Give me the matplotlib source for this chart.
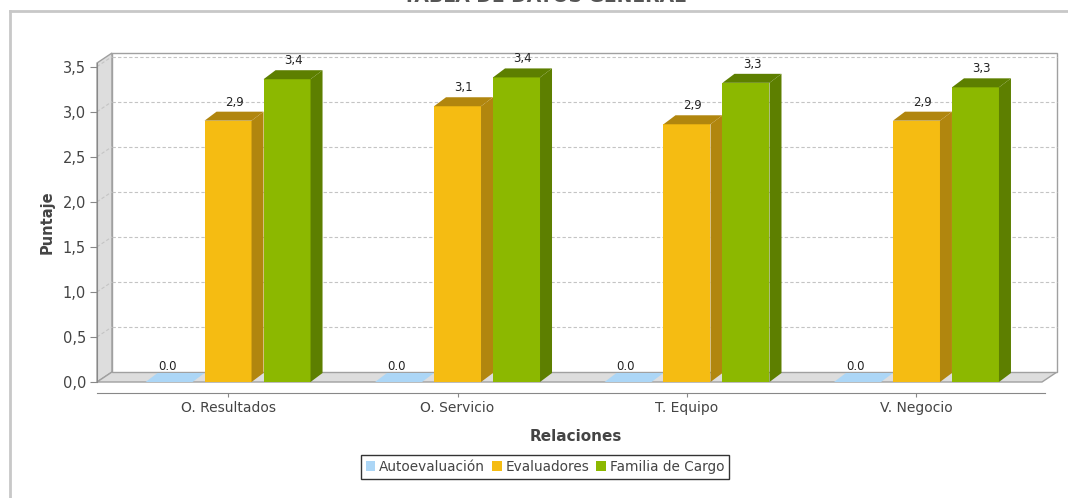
import numpy as np
import matplotlib.pyplot as plt
from matplotlib.patches import Polygon, Rectangle, Patch
from matplotlib.lines import Line2D

plt.rcParams['font.family'] = ['DejaVu Sans']

# Datos del gráfico
categorias = ['O. Resultados', 'O. Servicio', 'T. Equipo', 'V. Negocio']
series = ['Autoevaluación', 'Evaluadores', 'Familia de Cargo']
autoevaluacion = [0.0, 0.0, 0.0, 0.0]
evaluadores = [2.90, 3.06, 2.86, 2.90]
familia_cargo = [3.36, 3.38, 3.32, 3.27]
y_ticks = [0.0, 0.5, 1.0, 1.5, 2.0, 2.5, 3.0, 3.5]

# Colores: cara frontal, cara lateral/superior
colores = [('#acd6f6', '#8fb9dc'), ('#f5bc12', '#b1860e'), ('#8cb800', '#5d7f00')]

W, H = 1068, 498
fig = plt.figure(figsize=(W / 100, H / 100), dpi=100)
fig.patch.set_facecolor('white')

# plano frontal del gráfico en pixeles
px_left, px_right, px_top, px_bottom = 97, 1042, 63, 382
ax = fig.add_axes([px_left / W, 1 - px_bottom / H,
                   (px_right - px_left) / W, (px_bottom - px_top) / H])

x0, x1 = -0.571, 3.547
y0, y1 = 0.0, 3.54
ax.set_xlim(x0, x1)
ax.set_ylim(y0, y1)

ux = (x1 - x0) / (px_right - px_left)   # unidades por pixel en x
uy = (y1 - y0) / (px_bottom - px_top)   # unidades por pixel en y

# profundidad de paredes y barras
wdx, wdy = 15 * ux, 10 * uy
bdx, bdy = 12 * ux, 9 * uy

wall_edge = '#a0a0a0'
wall_fill = '#dddddd'

# pared izquierda
ax.add_patch(Polygon([(x0, y0), (x0, y1), (x0 + wdx, y1 + wdy), (x0 + wdx, y0 + wdy)],
                     closed=True, facecolor=wall_fill, edgecolor=wall_edge, lw=1,
                     clip_on=False, zorder=0))
# piso
ax.add_patch(Polygon([(x0, y0), (x1, y0), (x1 + wdx, y0 + wdy), (x0 + wdx, y0 + wdy)],
                     closed=True, facecolor=wall_fill, edgecolor=wall_edge, lw=1,
                     clip_on=False, zorder=0))
# pared del fondo
ax.add_patch(Rectangle((x0 + wdx, y0 + wdy), x1 - x0, y1 - y0, facecolor='white',
                       edgecolor=wall_edge, lw=1, clip_on=False, zorder=0))

# líneas de la grilla
for t in y_ticks[1:]:
    ax.plot([x0 + wdx, x1 + wdx], [t + wdy, t + wdy], ls=(0, (3, 2)), color='#c4c4c4',
            lw=0.8, clip_on=False, zorder=0.5)
    ax.plot([x0, x0 + wdx], [t, t + wdy], ls=(0, (3, 2)), color='#c4c4c4',
            lw=0.8, clip_on=False, zorder=0.5)

# barras 3D
paso = 59 * ux
ancho = 47 * ux
valores = [autoevaluacion, evaluadores, familia_cargo]
z = 2
for i in range(len(categorias)):
    for j, vals in enumerate(valores):
        v = vals[i]
        front, dark = colores[j]
        left = i + (j - 1) * paso - ancho / 2
        right = left + ancho
        if v > 0:
            ax.bar(left, v, width=ancho, align='edge', color=front, lw=0, zorder=z)
            ax.add_patch(Polygon([(right, 0), (right + bdx, bdy), (right + bdx, v + bdy), (right, v)],
                                 closed=True, facecolor=dark, lw=0, zorder=z, clip_on=False))
            top_color = dark
            lx, ly = left + ancho / 2 + bdx / 2, v + bdy + 3 * uy
            etiqueta = f'{v:.1f}'.replace('.', ',')
        else:
            top_color = front
            lx, ly = left + ancho / 2 - 2 * ux, v + bdy + 0.5 * uy
            etiqueta = '0.0'
        ax.add_patch(Polygon([(left, v), (right, v), (right + bdx, v + bdy), (left + bdx, v + bdy)],
                             closed=True, facecolor=top_color, lw=0, zorder=z, clip_on=False))
        ax.text(lx, ly, etiqueta, ha='center', va='bottom', fontsize=8.5,
                color='#222222', zorder=z + 1, clip_on=False)
        z += 1

# ejes
for s in ['top', 'right']:
    ax.spines[s].set_visible(False)
ax.spines['left'].set_color('#888888')
ax.spines['bottom'].set_color('#888888')
ax.spines['bottom'].set_position(('outward', 8))
ax.spines['bottom'].set_bounds(x0, x1 + 3 * ux)
ax.patch.set_visible(False)

ax.set_yticks(y_ticks)
ax.set_yticklabels([f'{t:.1f}'.replace('.', ',') for t in y_ticks])
ax.set_xticks(range(len(categorias)))
ax.set_xticklabels(categorias)
ax.tick_params(axis='y', length=5, color='#888888', labelsize=10.5, labelcolor='#444444', pad=3)
ax.tick_params(axis='x', length=3, color='#888888', labelsize=10, labelcolor='#444444', pad=3)

ax.set_ylabel('Puntaje', fontsize=10.5, fontweight='bold', color='#444444', labelpad=6)
ax.set_xlabel('Relaciones', fontsize=11, fontweight='bold', color='#444444', labelpad=7)
ax.xaxis.set_label_coords((576 - px_left) / (px_right - px_left), -(436 - px_bottom) / (px_bottom - px_top))
ax.xaxis.label.set_va('center')

# leyenda
handles = [Patch(facecolor=c[0], edgecolor='none') for c in colores]
leg = fig.legend(handles, series, loc='center', bbox_to_anchor=(545 / W, 1 - 467 / H),
                 ncol=3, fontsize=9.8, frameon=True, fancybox=False, handlelength=0.7,
                 handleheight=0.7, handletextpad=0.3, columnspacing=0.5, borderpad=0.35,
                 borderaxespad=0)
leg.get_frame().set_edgecolor('black')
leg.get_frame().set_linewidth(1)
for t in leg.get_texts():
    t.set_color('#444444')

# título (parcialmente fuera del borde superior)
fig.text(545 / W, 1 - 1.5 / H, 'TABLA DE DATOS GENERAL', ha='center', va='baseline',
         fontsize=13.5, fontweight='bold', color='#555555')

# marco del panel
fig.add_artist(Line2D([10 / W, 1], [1 - 11 / H, 1 - 11 / H], color='#c8c8c8', lw=2))
fig.add_artist(Line2D([10 / W, 10 / W], [0, 1 - 11 / H], color='#c8c8c8', lw=2))

fig.savefig('out.png', dpi=100)
